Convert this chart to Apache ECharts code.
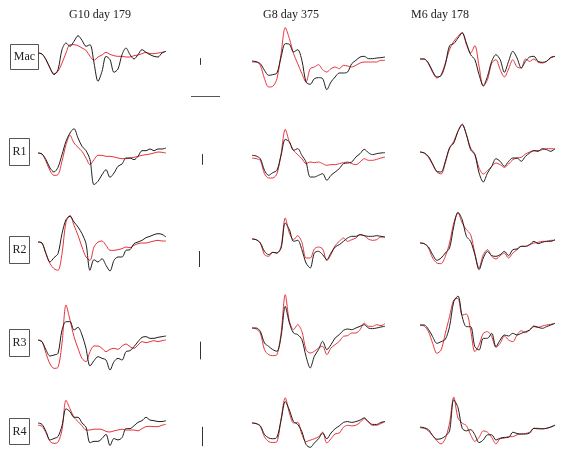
<!DOCTYPE html>
<html>
<head>
<meta charset="utf-8">
<script src="https://cdn.jsdelivr.net/npm/echarts@6/dist/echarts.min.js"></script>
<style>
  html, body { margin: 0; padding: 0; background: #fff; }
  #main { width: 565px; height: 466px; }
</style>
</head>
<body>
<div id="main"></div>
<script>
// panel titles and row labels
const columns = ['G10 day 179', 'G8 day 375', 'M6 day 178'];
const rows = ['Mac', 'R1', 'R2', 'R3', 'R4'];

// scale bar heights per row (same units as traces)
const scaleBars = [20, 32, 48, 53, 58];

// sample index (time)
const samples = Array.from({ length: 33 }, (_, i) => i);

// ---- traces: black = recorded, red = fitted ----
const macG10Blk = [0,-3,-20,-45,-65,-50,10,30,20,35,52,38,20,25,-30,-85,-55,-10,-20,-58,-48,-5,15,-5,-18,-5,10,2,-5,-10,-12,0,5];
const macG10Red = [0,-3,-20,-45,-62,-55,-30,0,25,25,22,15,8,-10,-22,-12,-6,2,-4,-8,-10,-10,-12,-12,-8,-6,-2,2,-2,-2,0,2,5];
const macG8Blk  = [0,-2,-8,-28,-43,-41,-36,12,52,50,27,34,2,-63,-70,-53,-50,-53,-86,-63,-48,-36,-36,-33,-8,2,12,14,7,7,9,10,12];
const macG8Red  = [-3,-3,-13,-53,-78,-76,-53,22,100,67,22,-8,-38,-63,-23,-18,-11,-26,-33,-23,-18,-23,-13,-15,-18,-13,-6,-3,-3,-3,-3,2,2];
const macM6Blk  = [0,0,-12,-37,-54,-50,-17,40,46,63,78,48,13,-2,-47,-80,-52,-7,13,-2,-40,-7,23,3,-27,-7,6,8,-7,-10,-7,5,8];
const macM6Red  = [0,0,-14,-40,-57,-47,-12,28,53,68,80,43,18,40,-22,-82,-62,-12,-2,-32,-54,-30,-2,-24,-27,0,-7,0,-10,-12,-7,3,8];

const r1G10Blk = [0,-3,-20,-45,-57,-43,-5,35,60,73,45,20,7,-20,-95,-85,-65,-50,-73,-60,-40,-33,-15,-15,-20,-10,7,7,12,7,12,12,15];
const r1G10Red = [0,-3,-25,-53,-67,-65,-25,25,53,30,17,5,-15,-35,-20,-7,-7,-10,-10,-12,-15,-17,-17,-15,-13,-10,-7,-5,-3,0,3,2,0];
const r1G8Blk  = [2,0,-8,-43,-58,-50,-43,2,50,42,17,22,2,-18,-63,-63,-58,-53,-73,-58,-48,-38,-23,-21,-18,-3,7,20,10,4,7,9,10];
const r1G8Red  = [-6,-8,-13,-53,-66,-66,-53,7,80,42,17,4,-8,-23,-18,-20,-18,-23,-28,-26,-26,-23,-20,-18,-23,-26,-18,-8,-13,-13,-10,-6,-3];
const r1M6Blk  = [0,-3,-13,-36,-58,-60,-28,12,27,62,82,52,7,-8,-63,-90,-63,-43,-20,-28,-43,-28,-18,-18,-28,-13,-3,4,2,10,7,2,10];
const r1M6Red  = [0,-3,-16,-38,-60,-66,-33,12,32,62,84,52,12,-6,-48,-66,-56,-43,-33,-38,-46,-36,-23,-18,-16,-6,0,4,4,7,10,10,9];

const r2G10Blk = [0,-3,-35,-60,-47,-35,25,67,77,60,45,25,-5,-85,-53,-60,-50,-70,-87,-55,-45,-45,-25,-23,-5,0,5,13,17,22,25,23,15];
const r2G10Red = [0,-3,-35,-65,-80,-85,-35,60,80,50,20,-15,-45,-55,-15,0,3,-10,-25,-25,-23,-20,-15,-17,-10,-5,-3,-3,0,3,5,3,3];
const r2G8Blk  = [0,-2,-12,-37,-47,-40,-42,-27,48,28,-7,-4,-32,-72,-87,-42,-37,-47,-62,-42,-24,-17,-7,3,8,8,13,10,8,8,10,8,6];
const r2G8Red  = [0,-2,-12,-47,-52,-40,-42,-22,63,18,-2,10,-10,-57,-57,-30,-24,-30,-65,-47,-20,-7,3,-7,-2,3,13,10,0,-4,-2,6,6];
const r2M6Blk  = [0,-2,-12,-35,-52,-45,-30,-15,50,92,70,20,5,-35,-80,-45,-25,-38,-40,-35,-25,-38,-20,-18,-10,-10,-5,5,-2,2,5,5,10];
const r2M6Red  = [0,-2,-15,-45,-60,-62,-40,0,60,90,60,40,25,-30,-75,-35,-20,-40,-48,-38,-30,-45,-30,-20,-10,-10,-5,0,2,5,5,8,8];

const r3G10Blk = [0,-5,-30,-48,-45,-40,30,55,55,30,38,15,-25,-78,-62,-50,-55,-60,-90,-65,-55,-60,-35,-32,-20,-5,8,10,5,5,8,10,12];
const r3G10Red = [0,-5,-40,-72,-85,-82,-10,105,60,10,-25,-55,-65,-35,-18,-18,-25,-35,-28,-25,-28,-18,-12,-20,-25,-15,-5,-8,-5,-2,-5,-2,0];
const r3G8Blk  = [0,0,-10,-45,-55,-65,-70,-25,65,15,-15,-20,-35,-85,-120,-85,-65,-40,-65,-50,-30,-20,-7,-3,-5,0,5,10,0,-2,0,3,5];
const r3G8Red  = [0,-3,-15,-65,-80,-83,-80,-15,100,20,-5,10,-10,-65,-75,-70,-60,-55,-80,-60,-50,-40,-25,-23,-15,-15,-5,15,5,5,10,7,13];
const r3M6Blk  = [0,0,-13,-35,-55,-50,-43,-5,70,87,25,-5,-5,-65,-75,-40,-40,-25,-65,-45,-30,-33,-25,-30,-25,-20,-15,-3,-7,-10,-5,0,5];
const r3M6Red  = [0,-3,-20,-55,-85,-75,-25,25,75,80,30,33,-15,-80,-60,-25,-20,-35,-67,-55,-33,-45,-50,-30,-17,-23,-15,-5,-7,-3,0,2,5];

const r4G10Blk = [2,-3,-28,-58,-53,-46,-8,52,42,22,22,2,-13,-68,-63,-63,-53,-38,-78,-53,-58,-50,-18,-18,-8,4,10,22,12,10,7,7,10];
const r4G10Red = [-6,-10,-33,-63,-70,-66,-23,82,52,22,7,-8,-23,-23,-20,-20,-21,-28,-30,-26,-23,-20,-23,-23,-23,-26,-18,-11,-10,-11,-11,-6,-3];
const r4G8Blk  = [0,-2,-10,-40,-52,-55,-50,10,75,45,5,-5,-30,-75,-85,-70,-55,-35,-55,-35,-20,-10,2,5,2,5,10,18,5,-5,-5,2,5];
const r4G8Red  = [0,-2,-12,-48,-65,-68,-65,15,88,35,0,2,-40,-65,-60,-55,-48,-32,-70,-55,-38,-35,-15,-8,-10,-8,2,15,2,-8,-8,-2,5];
const r4M6Blk  = [0,-3,-10,-33,-47,-45,-35,-15,105,75,-5,-15,-10,-30,-60,-50,-30,-30,-50,-43,-40,-40,-20,-25,-27,-27,-23,-5,-7,-7,-5,0,7];
const r4M6Red  = [-3,-5,-15,-33,-53,-65,-45,15,115,35,15,5,-30,-55,-40,-15,-20,-40,-65,-45,-43,-37,-37,-30,-27,-25,-20,-5,-5,-7,-5,0,7];

const traces = [
  [[macG10Blk, macG10Red], [macG8Blk, macG8Red], [macM6Blk, macM6Red]],
  [[r1G10Blk, r1G10Red], [r1G8Blk, r1G8Red], [r1M6Blk, r1M6Red]],
  [[r2G10Blk, r2G10Red], [r2G8Blk, r2G8Red], [r2M6Blk, r2M6Red]],
  [[r3G10Blk, r3G10Red], [r3G8Blk, r3G8Red], [r3M6Blk, r3M6Red]],
  [[r4G10Blk, r4G10Red], [r4G8Blk, r4G8Red], [r4M6Blk, r4M6Red]],
];

// layout: column x extents, baseline y of every panel
const colLeft = [38, 252, 420];
const colWidth = [128, 133, 135];
const baseY = [
  [53, 61, 59],
  [153, 156, 152],
  [242, 239, 243],
  [340, 328, 325],
  [431, 430, 438],
];
const PANEL_H = 100, AMP = 150;   // 300 units over 100px

const grid = [], xAxis = [], yAxis = [], series = [];
rows.forEach((row, r) => {
  columns.forEach((col, c) => {
    const gi = grid.length;
    grid.push({ left: colLeft[c], width: colWidth[c], top: baseY[r][c] - PANEL_H / 2, height: PANEL_H });
    xAxis.push({ type: 'category', data: samples, boundaryGap: false, gridIndex: gi, show: false });
    yAxis.push({ type: 'value', min: -AMP, max: AMP, gridIndex: gi, show: false });
    const [blk, red] = traces[r][c];
    series.push({
      type: 'line', xAxisIndex: gi, yAxisIndex: gi, data: red, smooth: 0.3,
      showSymbol: false, silent: true, clip: false,
      lineStyle: { color: '#e8343c', width: 1 }
    });
    series.push({
      type: 'line', xAxisIndex: gi, yAxisIndex: gi, data: blk, smooth: 0.3,
      showSymbol: false, silent: true, clip: false,
      lineStyle: { color: '#1e1e1e', width: 1 }
    });
  });
});

// column titles, row label boxes, scale bars
const titleX = [100, 291, 440];
const labelBox = [
  { x: 10, y: 44, w: 28, h: 25 },
  { x: 9, y: 138, w: 20, h: 27 },
  { x: 9, y: 236, w: 20, h: 27 },
  { x: 9, y: 329, w: 20, h: 27 },
  { x: 9, y: 418, w: 20, h: 26 },
];
const barX = [200, 202, 199, 200, 202];
const barMid = [61.5, 159.5, 259, 350.5, 436.5];

const graphic = [];
columns.forEach((t, c) => {
  graphic.push({
    type: 'text', x: titleX[c], y: 15,
    style: { text: t, font: '12px "Liberation Serif", "Times New Roman", serif', fill: '#222', align: 'center', verticalAlign: 'middle' }
  });
});
rows.forEach((t, r) => {
  const b = labelBox[r];
  graphic.push({
    type: 'rect', shape: { x: b.x + 0.5, y: b.y + 0.5, width: b.w, height: b.h },
    style: { fill: '#fff', stroke: '#555', lineWidth: 1 }
  });
  graphic.push({
    type: 'text', x: b.x + b.w / 2 + 0.5, y: b.y + b.h / 2 + 0.5,
    style: { text: t, font: '12px "Liberation Serif", "Times New Roman", serif', fill: '#222', align: 'center', verticalAlign: 'middle' }
  });
  const len = scaleBars[r] * PANEL_H / (2 * AMP);
  graphic.push({
    type: 'line', shape: { x1: barX[r] + 0.5, y1: barMid[r] - len / 2, x2: barX[r] + 0.5, y2: barMid[r] + len / 2 },
    style: { stroke: '#333', lineWidth: 1 }
  });
});
// time scale bar
graphic.push({
  type: 'line', shape: { x1: 191, y1: 96.5, x2: 220, y2: 96.5 },
  style: { stroke: '#555', lineWidth: 1 }
});

const chart = echarts.init(document.getElementById('main'), null, { renderer: 'canvas' });
chart.setOption({
  animation: false,
  backgroundColor: '#fff',
  grid, xAxis, yAxis, series, graphic
});
</script>
</body>
</html>
